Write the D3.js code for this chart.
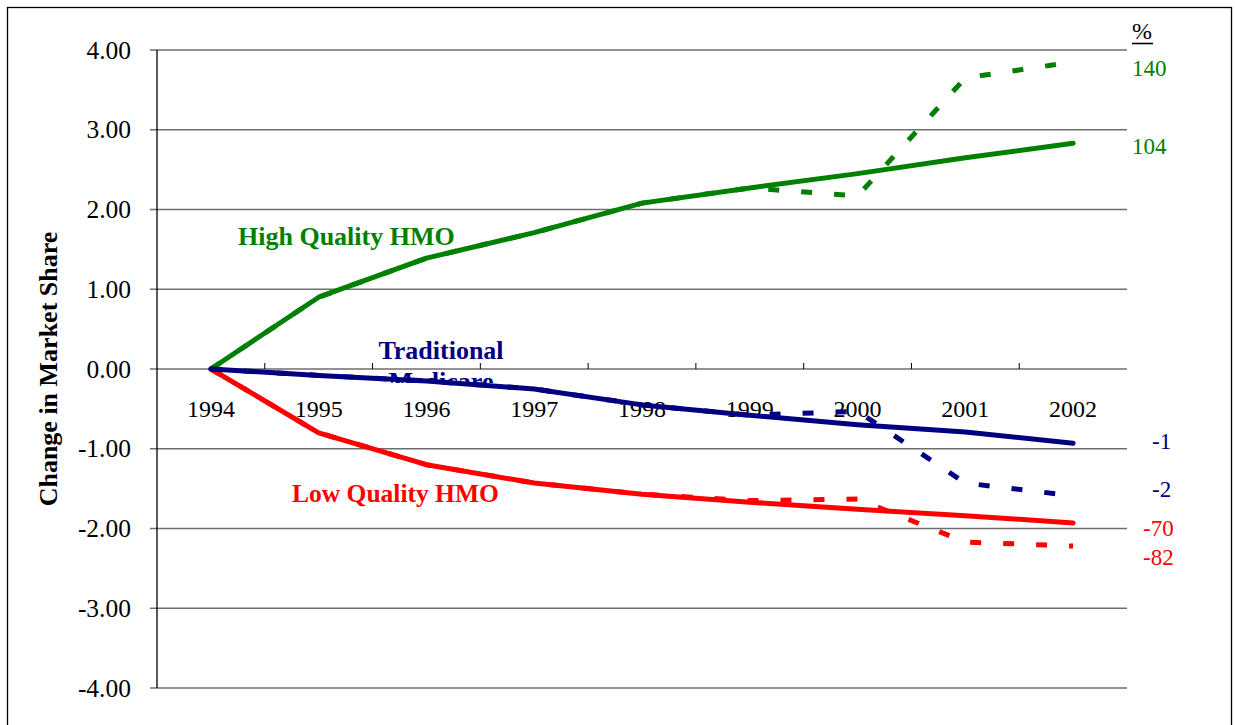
<!DOCTYPE html>
<html>
<head>
<meta charset="utf-8">
<script src="https://cdn.jsdelivr.net/npm/d3@7"></script>
<style>
  html, body { margin: 0; padding: 0; background: #fff; }
  svg { display: block; }
  text { font-family: "Liberation Serif", "Times New Roman", serif; }
</style>
</head>
<body>
<svg id="chart" width="1235" height="725"></svg>
<script>
// ---- data ----
const years = ["1994","1995","1996","1997","1998","1999","2000","2001","2002"];
const yTicks = [4, 3, 2, 1, 0, -1, -2, -3, -4];

const highSolid = [0, 0.90, 1.39, 1.71, 2.08, 2.27, 2.45, 2.65, 2.83];
const highDash  = [0, 0.90, 1.39, 1.71, 2.08, 2.27, 2.17, 3.65, 3.85];
const tradSolid = [0, -0.08, -0.15, -0.25, -0.45, -0.58, -0.70, -0.79, -0.93];
const tradDash  = [0, -0.08, -0.15, -0.25, -0.45, -0.58, -0.53, -1.43, -1.59];
const lowSolid  = [0, -0.80, -1.20, -1.43, -1.57, -1.67, -1.76, -1.84, -1.93];
const lowDash   = [0, -0.80, -1.20, -1.43, -1.57, -1.65, -1.63, -2.17, -2.22];

const endLabels = [
  { text: "140", value: 3.85, color: "#008000" },
  { text: "104", value: 2.83, color: "#008000" },
  { text: "-1",  value: -0.93, color: "#000080" },
  { text: "-2",  value: -1.59, color: "#000080" },
  { text: "-70", value: -1.93, color: "#ff0000" },
  { text: "-82", value: -2.22, color: "#ff0000" }
];

// ---- layout ----
const svg = d3.select("#chart");
const plot = { left: 157, right: 1127, top: 50, bottom: 688 };

const x = d3.scaleBand().domain(years).range([plot.left, plot.right]).padding(0);
const cx = d => x(d) + x.bandwidth() / 2;
const y = d3.scaleLinear().domain([-4, 4]).range([plot.bottom, plot.top]);
const fmt = d3.formatLocale({ decimal: ".", thousands: ",", grouping: [3], currency: ["", ""], minus: "-" }).format(".2f");

// outer border
svg.append("rect").attr("x", 7.5).attr("y", 7.5).attr("width", 1224).attr("height", 740)
  .attr("fill", "none").attr("stroke", "#000").attr("stroke-width", 1.3);

// gridlines
svg.append("g").selectAll("line").data(yTicks).join("line")
  .attr("x1", plot.left - 7).attr("x2", plot.right)
  .attr("y1", d => y(d)).attr("y2", d => y(d))
  .attr("stroke", "#6e6e6e").attr("stroke-width", 1.3);

// y axis line
svg.append("line").attr("x1", plot.left).attr("x2", plot.left)
  .attr("y1", plot.top).attr("y2", plot.bottom).attr("stroke", "#000").attr("stroke-width", 1.3);

// y tick labels
svg.append("g").selectAll("text").data(yTicks).join("text")
  .attr("x", 131).attr("y", d => y(d)).attr("dy", "0.34em")
  .attr("text-anchor", "end").attr("font-size", 25.5).attr("fill", "#000")
  .text(d => fmt(d));

// x axis tick marks on zero line (category boundaries)
const bounds = years.slice(1).map(d => x(d));
svg.append("g").selectAll("line").data(bounds).join("line")
  .attr("x1", d => d).attr("x2", d => d)
  .attr("y1", y(0)).attr("y2", y(0) - 6)
  .attr("stroke", "#000").attr("stroke-width", 1);

// year labels
svg.append("g").selectAll("text").data(years).join("text")
  .attr("x", d => cx(d)).attr("y", 417)
  .attr("text-anchor", "middle").attr("font-size", 24).attr("fill", "#000")
  .text(d => d);

// y axis title
svg.append("text")
  .attr("transform", `translate(57, ${y(0)}) rotate(-90)`)
  .attr("text-anchor", "middle").attr("font-size", 26).attr("font-weight", "bold")
  .attr("fill", "#000").text("Change in Market Share");

// Traditional Medicare label (second line partly hidden)
svg.append("defs").append("clipPath").attr("id", "medclip")
  .append("rect").attr("x", 300).attr("y", 300).attr("width", 300).attr("height", 83);
svg.append("text").attr("x", 441).attr("y", 359).attr("text-anchor", "middle")
  .attr("font-size", 26).attr("font-weight", "bold").attr("fill", "#000080").text("Traditional");
svg.append("text").attr("x", 441).attr("y", 390).attr("text-anchor", "middle")
  .attr("clip-path", "url(#medclip)")
  .attr("font-size", 26).attr("font-weight", "bold").attr("fill", "#000080").text("Medicare");

// lines
const line = d3.line().x((d, i) => cx(years[i])).y(d => y(d));
const series = [
  { vals: lowDash, color: "#ff0000", dash: true },
  { vals: lowSolid, color: "#ff0000", dash: false },
  { vals: highDash, color: "#008000", dash: true },
  { vals: highSolid, color: "#008000", dash: false },
  { vals: tradDash, color: "#000080", dash: true },
  { vals: tradSolid, color: "#000080", dash: false }
];
svg.append("g").selectAll("path").data(series).join("path")
  .attr("d", d => line(d.vals))
  .attr("fill", "none")
  .attr("stroke", d => d.color)
  .attr("stroke-width", 5)
  .attr("stroke-dasharray", d => d.dash ? "11,22" : null)
  .attr("stroke-linecap", d => d.dash ? "butt" : "round")
  .attr("stroke-linejoin", "round");

// series labels
svg.append("text").attr("x", 238).attr("y", 245)
  .attr("font-size", 26).attr("font-weight", "bold").attr("fill", "#008000").text("High Quality HMO");
svg.append("text").attr("x", 292).attr("y", 502)
  .attr("font-size", 25.5).attr("font-weight", "bold").attr("fill", "#ff0000").text("Low Quality HMO");

// right-side percent labels
svg.append("text").attr("x", 1142).attr("y", 39).attr("text-anchor", "middle")
  .attr("font-size", 24).attr("fill", "#000").text("%");
svg.append("line").attr("x1", 1132).attr("x2", 1153).attr("y1", 43.5).attr("y2", 43.5)
  .attr("stroke", "#000").attr("stroke-width", 1.6);

const endPos = { "140": [1132, 68.5], "104": [1132, 146.5], "-1": [1152, 441], "-2": [1152, 489], "-70": [1143, 528], "-82": [1143, 557] };
svg.append("g").selectAll("text").data(endLabels).join("text")
  .attr("x", d => endPos[d.text][0]).attr("y", d => endPos[d.text][1]).attr("dy", "0.34em")
  .attr("font-size", 23).attr("fill", d => d.color).text(d => d.text);
</script>
</body>
</html>
